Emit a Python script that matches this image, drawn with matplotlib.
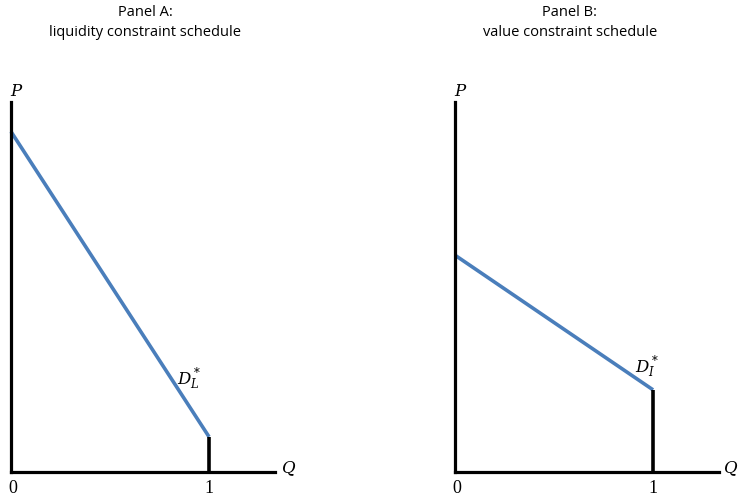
import matplotlib
matplotlib.use("Agg")
from matplotlib import pyplot as plt

# demand schedules: quantity (0..1) and price
q = [0.0, 1.0]
price_a = [0.92, 0.095]
price_b = [0.586, 0.222]
titles = ["Panel A:\nliquidity constraint schedule",
          "Panel B:\nvalue constraint schedule"]
curve_labels = [r"$D_L^*$", r"$D_I^*$"]
label_pos = [(0.9, 0.25), (0.97, 0.283)]

plt.rcParams["mathtext.fontset"] = "dejavuserif"

fig = plt.figure(figsize=(7.38, 4.98), dpi=100)
blue = "#4a7ebb"

lefts = [11 / 738, 455 / 738]
for i, (prices, left) in enumerate(zip([price_a, price_b], lefts)):
    ax = fig.add_axes([left, 26 / 498, 264 / 738, 370 / 498])
    ax.set_xlim(0, 1.333)
    ax.set_ylim(0, 1)
    for s in ["top", "right"]:
        ax.spines[s].set_visible(False)
    for s in ["left", "bottom"]:
        ax.spines[s].set_linewidth(2.3)
    ax.set_xticks([])
    ax.set_yticks([])
    ax.plot(q, prices, color=blue, lw=2.6, clip_on=False, solid_capstyle="butt")
    ax.plot([q[1], q[1]], [0, prices[1]], color="black", lw=2.6, clip_on=False,
            solid_capstyle="butt")
    ax.text(q[0] + 0.01, -0.022, "0", ha="center", va="top", fontsize=13,
            family="Liberation Serif")
    ax.text(q[1], -0.022, "1", ha="center", va="top", fontsize=13,
            family="Liberation Serif")
    ax.text(1.39 if i == 1 else 1.4, 0.01, r"$Q$", ha="center", va="center",
            fontsize=12)
    ax.text(0.03, 1.03, r"$P$", ha="center", va="center", fontsize=12)
    ax.text(label_pos[i][0], label_pos[i][1], curve_labels[i], ha="center",
            va="center", fontsize=12)
    ax.text(0.508 if i == 0 else 0.435, 1.215, titles[i], transform=ax.transAxes,
            ha="center", va="center", fontsize=10.5, family="Open Sans",
            linespacing=1.45)

fig.savefig("out.png", dpi=100)
